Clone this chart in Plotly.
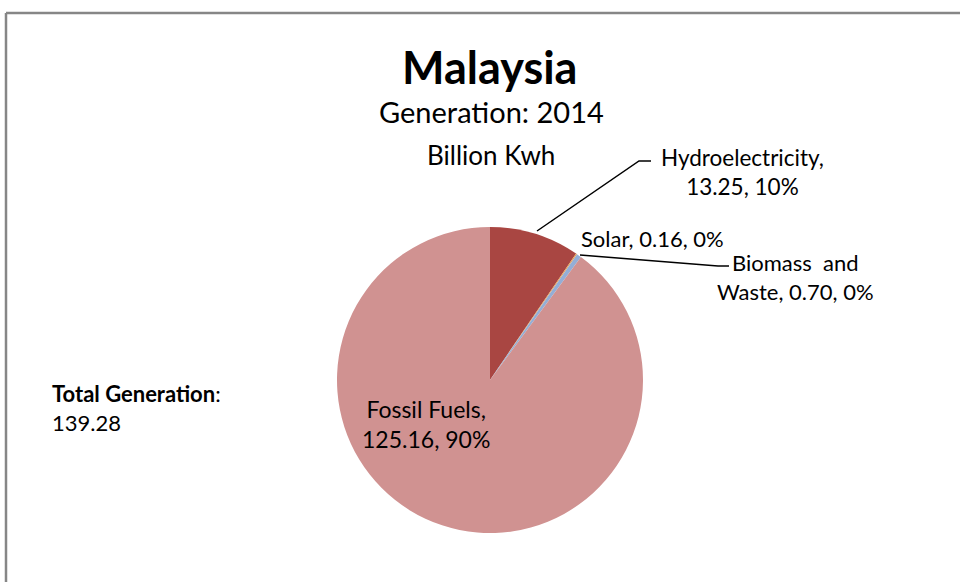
import plotly.graph_objects as go

# Data
sources = ["Hydroelectricity", "Solar", "Biomass  and Waste", "Fossil Fuels"]
values = [13.25, 0.16, 0.70, 125.16]
percents = ["10%", "0%", "0%", "90%"]
colors = ["#A94642", "#E9A050", "#94AED6", "#D09291"]
total_generation = 139.28
title_text = "Malaysia"
subtitle_lines = ["Generation: 2014", "Billion Kwh"]

W, H = 960, 582
FONT = "Lato, 'Open Sans', sans-serif"

def px(x):
    return x / W

def py(y):
    return 1 - y / H

# pie centre (490, 380), radius 153 px
cx, cy, r = 490, 380, 153

fig = go.Figure(go.Pie(
    labels=sources,
    values=values,
    sort=False,
    direction="clockwise",
    rotation=0,
    marker=dict(colors=colors, line=dict(color="white", width=0)),
    textinfo="none",
    hoverinfo="label+value+percent",
    showlegend=False,
    domain=dict(x=[px(cx - r), px(cx + r)], y=[py(cy + r), py(cy - r)]),
))

annotations = [
    dict(x=px(490), y=py(67), text=f"<b>{title_text}</b>", font=dict(size=45)),
    dict(x=px(491), y=py(112), text=subtitle_lines[0], font=dict(size=29)),
    dict(x=px(491), y=py(155), text=subtitle_lines[1], font=dict(size=26)),
    dict(x=px(742), y=py(172),
         text=f"{sources[0]},<br>{values[0]:.2f}, {percents[0]}", font=dict(size=22.5)),
    dict(x=px(652), y=py(238),
         text=f"{sources[1]}, {values[1]:.2f}, {percents[1]}", font=dict(size=22)),
    dict(x=px(795), y=py(277),
         text=f"Biomass  and<br>Waste, {values[2]:.2f}, {percents[2]}", font=dict(size=22)),
    dict(x=px(426), y=py(424),
         text=f"{sources[3]},<br>{values[3]:.2f}, {percents[3]}", font=dict(size=23)),
    dict(x=px(50), y=py(408), xanchor="left",
         text=f"<b>Total Generation</b>:<br>{total_generation:.2f}", font=dict(size=22),
         align="left"),
]
for a in annotations:
    a.update(xref="paper", yref="paper", showarrow=False)
    a.setdefault("xanchor", "center")
    a["font"].update(color="black", family=FONT)
    a["yanchor"] = "middle"
    a["align"] = a.get("align", "center")

shapes = [
    # chart frame (top and left edges; the rest lies outside the picture)
    dict(type="line", xref="paper", yref="paper",
         x0=px(6), y0=py(13), x1=1, y1=py(13),
         line=dict(color="#868686", width=2.5)),
    dict(type="line", xref="paper", yref="paper",
         x0=px(6), y0=py(13), x1=px(6), y1=0,
         line=dict(color="#868686", width=2.5)),
    # leader lines
    dict(type="path", xref="paper", yref="paper",
         path=f"M {px(537)} {py(231)} L {px(639)} {py(161)} L {px(651)} {py(161)}",
         line=dict(color="black", width=1.5)),
    dict(type="path", xref="paper", yref="paper",
         path=f"M {px(580)} {py(255)} L {px(718)} {py(266)} L {px(729)} {py(266)}",
         line=dict(color="black", width=1.5)),
]

fig.update_layout(
    width=W, height=H,
    margin=dict(l=0, r=0, t=0, b=0),
    paper_bgcolor="white",
    plot_bgcolor="white",
    annotations=annotations,
    shapes=shapes,
)

fig.write_html(
    "out.html",
    config={"displayModeBar": False},
    post_script="document.body.style.margin='0';document.body.style.padding='0';"
                "document.body.style.overflow='hidden';",
)
